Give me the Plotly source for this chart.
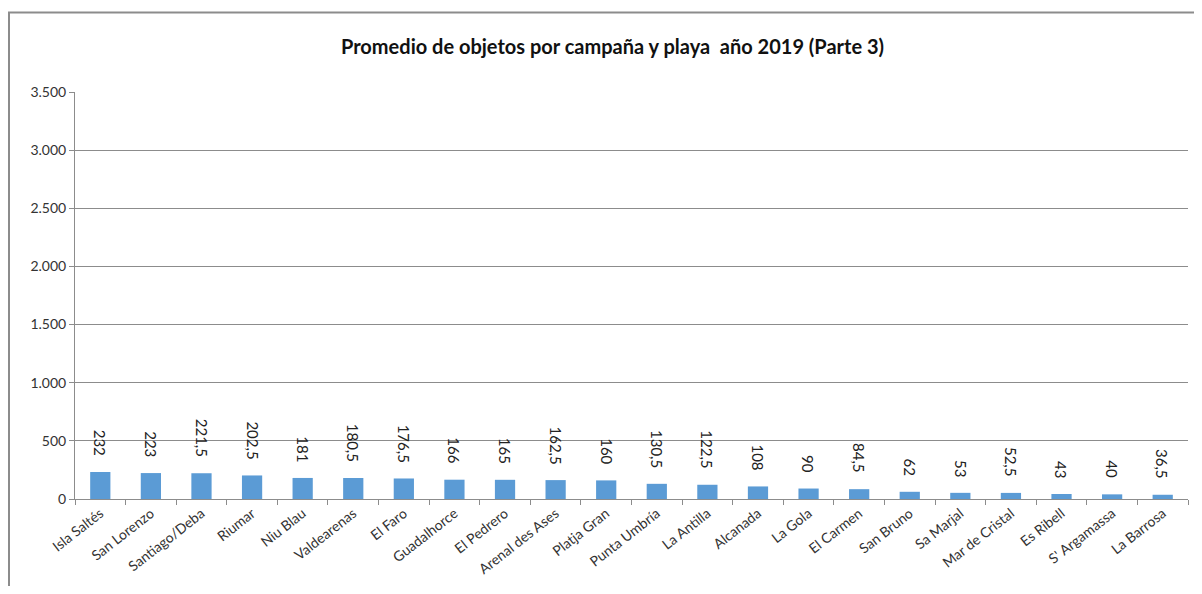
import plotly.graph_objects as go

# Playas y promedio de objetos (parte 3)
playas = ["Isla Saltés", "San Lorenzo", "Santiago/Deba", "Riumar", "Niu Blau",
          "Valdearenas", "El Faro", "Guadalhorce", "El Pedrero", "Arenal des Ases",
          "Platja Gran", "Punta Umbría", "La Antilla", "Alcanada", "La Gola",
          "El Carmen", "San Bruno", "Sa Marjal", "Mar de Cristal", "Es Ribell",
          "S' Argamassa", "La Barrosa"]
promedio = [232, 223, 221.5, 202.5, 181, 180.5, 176.5, 166, 165, 162.5, 160,
            130.5, 122.5, 108, 90, 84.5, 62, 53, 52.5, 43, 40, 36.5]

FONT = "Lato, 'Open Sans', sans-serif"

fig = go.Figure()
fig.add_trace(go.Bar(x=playas, y=promedio, marker_color="#5B9BD5",
                     marker_line_width=0, showlegend=False))

# Etiquetas de datos giradas
for p, v in zip(playas, promedio):
    txt = f"{v:g}".replace(".", ",")
    fig.add_annotation(x=p, y=v, text=txt, textangle=90, showarrow=False,
                       yanchor="bottom", yshift=14,
                       font=dict(family=FONT, size=15, color="#222"))

# Marco del gráfico
fig.add_shape(type="rect", xref="paper", yref="paper", x0=-0.0593, x1=1.2,
              y0=-0.5, y1=1.1953, line=dict(color="#8c8c8c", width=2))

fig.update_layout(
    width=1186, height=578,
    margin=dict(l=67, r=6, t=84, b=87),
    paper_bgcolor="white", plot_bgcolor="white",
    separators=",.",
    bargap=0.6,
    font=dict(family=FONT, size=14, color="#333"),
    title=dict(text="<b>Promedio de objetos por campaña y playa  año 2019 (Parte 3)</b>",
               x=0.5097, xanchor="center", y=0.9325, yanchor="middle",
               font=dict(family=FONT, size=20, color="#111")),
    xaxis=dict(showline=True, linecolor="#8c8c8c", linewidth=1,
               ticks="outside", tickson="boundaries", ticklen=5,
               tickcolor="#8c8c8c", tickangle=-38, automargin=False,
               tickfont=dict(family=FONT, size=14, color="#333")),
    yaxis=dict(range=[0, 3500], dtick=500, tickformat=",d", automargin=False,
               showline=True, linecolor="#8c8c8c", linewidth=1,
               showgrid=True, gridcolor="#8c8c8c", gridwidth=1,
               ticks="outside", ticklen=5, tickcolor="#8c8c8c",
               tickfont=dict(family=FONT, size=14, color="#333")),
)

fig.write_html("out.html")
